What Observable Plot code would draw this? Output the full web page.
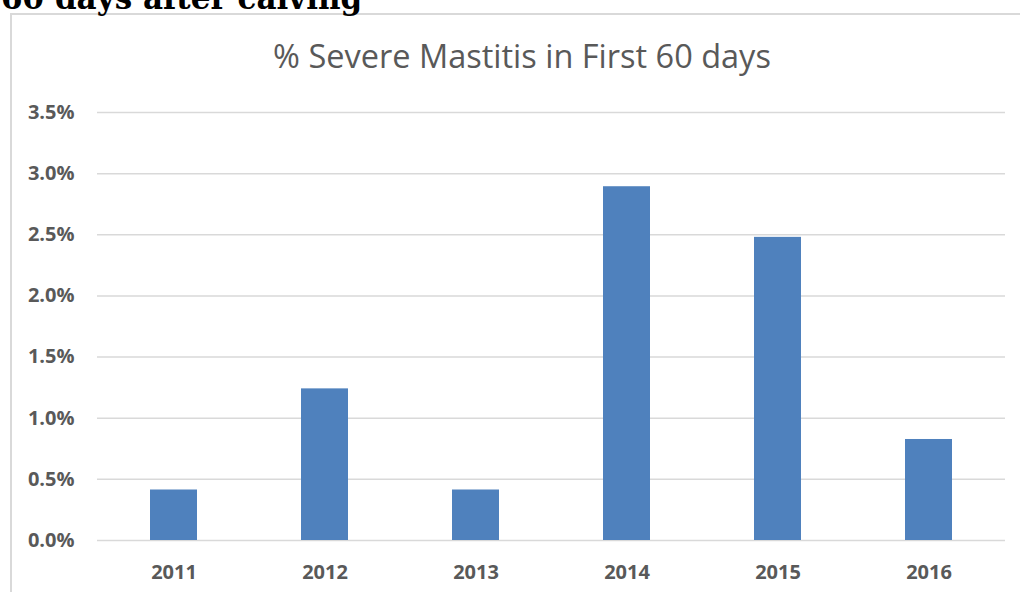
<!DOCTYPE html>
<html><head><meta charset="utf-8">
<script src="https://cdn.jsdelivr.net/npm/d3@7"></script>
<script src="https://cdn.jsdelivr.net/npm/@observablehq/plot@0.6"></script>
<style>
html,body{margin:0;padding:0;background:#fff;overflow:hidden;}
#wrap{position:relative;width:1020px;height:592px;overflow:hidden;background:#fff;}
#head{position:absolute;left:1px;top:-17px;font-family:"DejaVu Serif";font-weight:bold;font-size:31px;line-height:31px;color:#000;white-space:nowrap;}
#box{position:absolute;left:10px;top:13px;width:1100px;height:700px;border:2px solid #d9d9d9;box-sizing:border-box;}
#title{position:absolute;left:522px;top:40px;transform:translateX(-50%);font-family:"Open Sans";font-size:32.5px;line-height:32.5px;color:#595959;white-space:nowrap;}
#chart{position:absolute;left:0;top:0;}
</style>
</head><body>
<div id="wrap">
  <div id="box"></div>
  <div id="head">60 days after calving</div>
  <div id="title">% Severe Mastitis in First 60 days</div>
  <div id="chart"></div>
</div>
<script>
const years = ["2011","2012","2013","2014","2015","2016"];
const values = [0.413, 1.240, 0.413, 2.893, 2.479, 0.826];
const yTicks = [0, 0.5, 1.0, 1.5, 2.0, 2.5, 3.0, 3.5];

const data = years.map((y, i) => ({year: y, value: values[i]}));

const chart = Plot.plot({
  width: 1020,
  height: 592,
  marginTop: 112,
  marginBottom: 52,
  marginLeft: 97,
  marginRight: 15,
  style: {fontFamily: "Open Sans", fontSize: "20px", fontWeight: 700, color: "#595959", background: "transparent", overflow: "visible"},
  x: {type: "band", domain: years, paddingInner: 0.69, paddingOuter: 0.345, label: null},
  y: {domain: [0, 3.5], label: null},
  marks: [
    Plot.ruleY(yTicks, {stroke: "#d9d9d9", strokeWidth: 1.5}),
    Plot.barY(data, {x: "year", y: "value", fill: "#4f81bd"}),
    Plot.axisY({ticks: yTicks, tickFormat: d => d.toFixed(1) + "%", tickSize: 0, tickPadding: 23, label: null}),
    Plot.axisX({tickSize: 0, tickPadding: 24, label: null})
  ]
});
document.getElementById("chart").appendChild(chart);
</script>
</body></html>
